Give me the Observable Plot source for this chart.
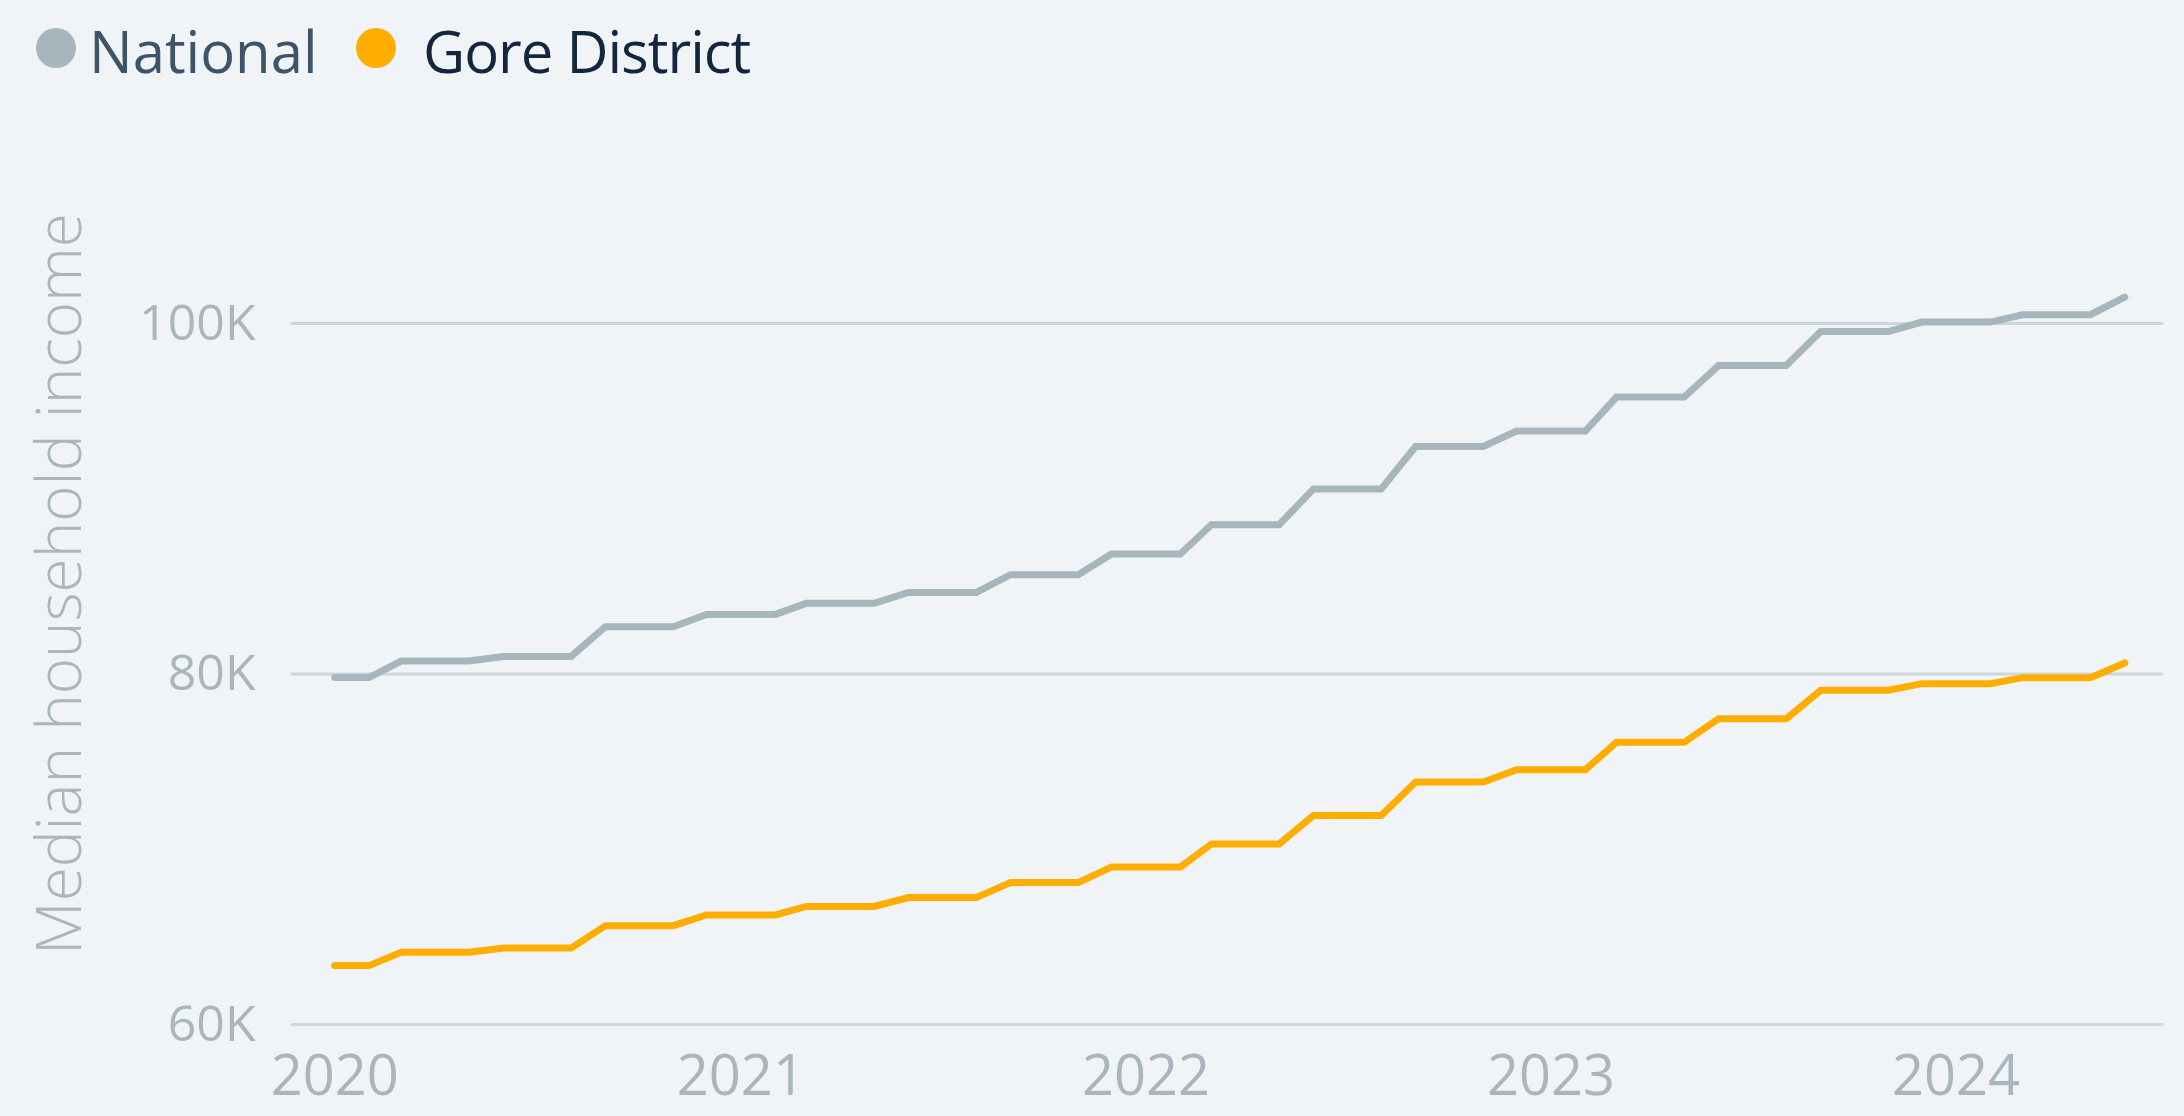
<!DOCTYPE html>
<html>
<head>
<meta charset="utf-8">
<script src="https://cdn.jsdelivr.net/npm/d3@7"></script>
<script src="https://cdn.jsdelivr.net/npm/@observablehq/plot@0.6"></script>
<style>
  html, body { margin: 0; padding: 0; background: #f0f4f7; }
  body { width: 2184px; height: 1116px; overflow: hidden; font-family: "Open Sans", sans-serif; }
  #legend { position: relative; height: 110px; width: 2184px; }
  #legend .dot { position: absolute; width: 40px; height: 40px; border-radius: 50%; top: 28px; }
  #legend .lab { position: absolute; font-size: 58px; line-height: 58px; top: 22px; white-space: nowrap; }
  #chart svg { display: block; }
</style>
</head>
<body>
<div id="legend"></div>
<div id="chart"></div>
<script>
// ---- data ----
const months = [
  "2020-01","2020-02","2020-03","2020-04","2020-05","2020-06","2020-07","2020-08","2020-09","2020-10","2020-11","2020-12",
  "2021-01","2021-02","2021-03","2021-04","2021-05","2021-06","2021-07","2021-08","2021-09","2021-10","2021-11","2021-12",
  "2022-01","2022-02","2022-03","2022-04","2022-05","2022-06","2022-07","2022-08","2022-09","2022-10","2022-11","2022-12",
  "2023-01","2023-02","2023-03","2023-04","2023-05","2023-06","2023-07","2023-08","2023-09","2023-10","2023-11","2023-12",
  "2024-01","2024-02","2024-03","2024-04","2024-05","2024-06"
];
const nationalValues = [
  79800, 79800,
  80740, 80740, 80740,
  81000, 81000, 81000,
  82700, 82700, 82700,
  83400, 83400, 83400,
  84030, 84030, 84030,
  84650, 84650, 84650,
  85670, 85670, 85670,
  86850, 86850, 86850,
  88520, 88520, 88520,
  90560, 90560, 90560,
  92980, 92980, 92980,
  93860, 93860, 93860,
  95800, 95800, 95800,
  97600, 97600, 97600,
  99540, 99540, 99540,
  100080, 100080, 100080,
  100500, 100500, 100500,
  101500
];
const goreValues = [
  63360, 63360,
  64120, 64120, 64120,
  64360, 64360, 64360,
  65640, 65640, 65640,
  66250, 66250, 66250,
  66740, 66740, 66740,
  67240, 67240, 67240,
  68100, 68100, 68100,
  68990, 68990, 68990,
  70300, 70300, 70300,
  71930, 71930, 71930,
  73840, 73840, 73840,
  74540, 74540, 74540,
  76100, 76100, 76100,
  77450, 77450, 77450,
  79070, 79070, 79070,
  79450, 79450, 79450,
  79790, 79790, 79790,
  80630
];
const seriesNames = ["National", "Gore District"];
const seriesColors = ["#a7b5bc", "#ffae00"];
const legendTextColors = ["#3e5469", "#13263d"];
const yTicks = [60000, 80000, 100000];
const yTickLabels = ["60K", "80K", "100K"];
const xTickYears = ["2020", "2021", "2022", "2023", "2024"];
const yTitle = "Median household income";

// ---- legend ----
const legend = document.getElementById("legend");
const legendPos = [{dot: 36, text: 89, ls: "0px"}, {dot: 356, text: 423, ls: "-1px"}];
seriesNames.forEach((name, i) => {
  const dot = document.createElement("div");
  dot.className = "dot";
  dot.style.left = legendPos[i].dot + "px";
  dot.style.background = seriesColors[i];
  legend.appendChild(dot);
  const lab = document.createElement("div");
  lab.className = "lab";
  lab.style.left = legendPos[i].text + "px";
  lab.style.letterSpacing = legendPos[i].ls;
  lab.style.color = legendTextColors[i];
  lab.textContent = name;
  legend.appendChild(lab);
});

// ---- table ----
const parse = d3.utcParse("%Y-%m");
const rows = [];
months.forEach((m, i) => rows.push({date: parse(m), value: nationalValues[i], series: seriesNames[0]}));
months.forEach((m, i) => rows.push({date: parse(m), value: goreValues[i], series: seriesNames[1]}));

const tickDates = xTickYears.map(y => d3.utcParse("%Y")(y));
const labelMap = new Map(yTicks.map((t, i) => [t, yTickLabels[i]]));

const axisColor = "#a9b6bd";
const chart = Plot.plot({
  width: 2184,
  height: 1006,
  marginLeft: 292,
  marginRight: 22,
  marginTop: 213,
  marginBottom: 92,
  style: {background: "transparent", fontFamily: "Open Sans, sans-serif", overflow: "visible"},
  x: {type: "utc", domain: [new Date(Date.UTC(2019, 10, 24)), new Date(Date.UTC(2024, 6, 5))]},
  y: {domain: [60000, 100000]},
  color: {domain: seriesNames, range: seriesColors},
  marks: [
    Plot.gridY(yTicks, {stroke: "#cdd6dc", strokeOpacity: 1, strokeWidth: 3, strokeLinecap: "round"}),
    Plot.axisY(yTicks, {
      tickSize: 0, tickPadding: 37, fontSize: 50, fill: axisColor,
      tickFormat: d => labelMap.get(d), label: null
    }),
    Plot.axisX(tickDates, {
      tickSize: 0, tickPadding: 31, fontSize: 56, fill: axisColor,
      tickFormat: d3.utcFormat("%Y"), label: null
    }),
    Plot.text([yTitle], {
      frameAnchor: "left", text: d => d, rotate: -90,
      textAnchor: "middle", lineAnchor: "middle",
      dx: -231, dy: -90, fontSize: 62, fontWeight: 300, fill: axisColor
    }),
    Plot.line(rows, {
      x: "date", y: "value", z: "series", stroke: "series",
      strokeWidth: 7, strokeLinecap: "round", strokeLinejoin: "miter", strokeMiterlimit: 4
    })
  ]
});
document.getElementById("chart").appendChild(chart);
</script>
</body>
</html>
